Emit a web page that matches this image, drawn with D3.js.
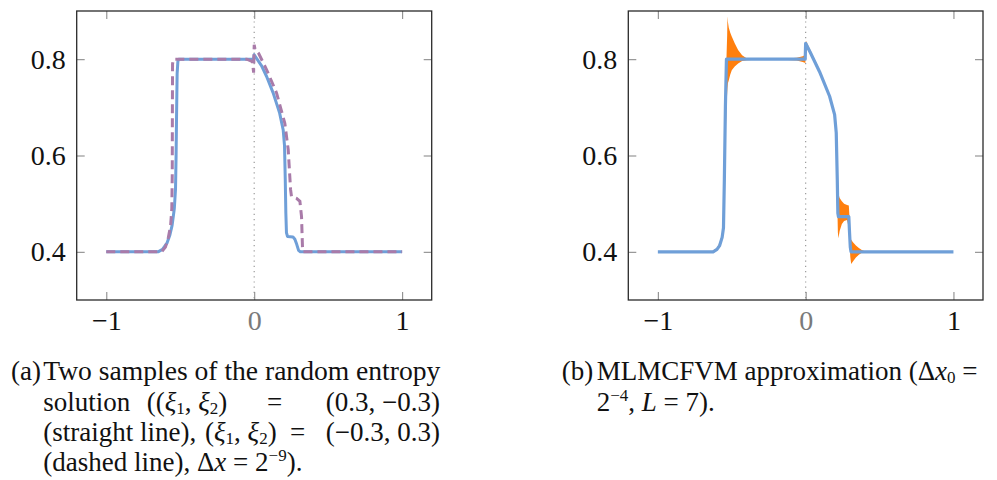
<!DOCTYPE html>
<html>
<head>
<meta charset="utf-8">
<script src="https://cdn.jsdelivr.net/npm/d3@7"></script>
<style>
  body { margin: 0; background: #fff; }
  text { font-family: "Liberation Serif", serif; }
</style>
</head>
<body>
<svg id="chart" width="997" height="480"></svg>
<script>
/*
 * Two panels: (a) two samples of the entropy solution, (b) MLMC mean with its spread.
 */

var xDomain = [-1.2, 1.2];
var yDomain = [0.3, 0.9];
var xTicks = [-1, 0, 1];
var yTicks = [0.4, 0.6, 0.8];

// (a) sample (xi1, xi2) = (0.3, -0.3), straight line
var solidX = [-1, -0.65, -0.62, -0.59, -0.57, -0.555, -0.54, -0.532, -0.528, -0.525, -0.521, -0.516, -0.51, -0.005,
  0.0, 0.05, 0.084, 0.128, 0.172, 0.196, 0.205, 0.210, 0.214, 0.218, 0.225, 0.262, 0.275, 0.288, 0.300, 0.312, 1];
var solidY = [0.4, 0.4, 0.405, 0.418, 0.435, 0.455, 0.49, 0.53, 0.6, 0.68, 0.77, 0.795, 0.8, 0.8,
  0.809, 0.786, 0.764, 0.73, 0.688, 0.653, 0.62, 0.55, 0.48, 0.44, 0.432, 0.431, 0.426, 0.415, 0.403, 0.4, 0.4];

// (a) sample (xi1, xi2) = (-0.3, 0.3), dashed line
var dashX = [-1, -0.626, -0.6, -0.58, -0.565, -0.557, -0.554, -0.553, -0.552, -0.546, -0.05, -0.012, -0.004,
  0.0, 0.006, 0.03, 0.084, 0.151, 0.207, 0.23, 0.246, 0.252, 0.286, 0.309, 0.32, 0.327, 0.332, 1];
var dashY = [0.4, 0.4, 0.41, 0.43, 0.455, 0.49, 0.56, 0.7, 0.79, 0.8, 0.8, 0.795, 0.772,
  0.83, 0.82, 0.812, 0.778, 0.73, 0.667, 0.612, 0.529, 0.515, 0.511, 0.505, 0.473, 0.404, 0.4, 0.4];

// (b) MLMCFVM mean
var meanX = [-1, -0.626, -0.60, -0.582, -0.565, -0.556, -0.55, -0.543, -0.536, -0.529, -0.003,
  0.0, 0.03, 0.094, 0.162, 0.196, 0.207, 0.214, 0.218, 0.222, 0.292, 0.297, 0.302, 0.307, 1];
var meanY = [0.4, 0.4, 0.405, 0.413, 0.43, 0.45, 0.55, 0.7, 0.8, 0.8, 0.8,
  0.833, 0.815, 0.774, 0.723, 0.685, 0.647, 0.55, 0.48, 0.473, 0.473, 0.44, 0.41, 0.4, 0.4];

// (b) spread around the mean (orange band)
var bandX = [-1, -0.64, -0.60, -0.58, -0.565, -0.555, -0.548, -0.542, -0.536, -0.531, -0.529, -0.526, -0.52,
  -0.51, -0.50, -0.48, -0.457, -0.43, -0.40, -0.30, -0.15, -0.06, -0.02, -0.002, 0.002, 0.03, 0.094, 0.162,
  0.196, 0.207, 0.211, 0.214, 0.218, 0.222, 0.23, 0.245, 0.26, 0.28, 0.292, 0.297, 0.302, 0.308, 0.32, 0.34,
  0.36, 0.38, 0.40, 0.45, 1];
var bandLo = [0.4, 0.4, 0.403, 0.41, 0.425, 0.44, 0.52, 0.62, 0.70, 0.73, 0.74, 0.75, 0.756,
  0.768, 0.777, 0.785, 0.791, 0.796, 0.798, 0.7995, 0.799, 0.797, 0.794, 0.792, 0.826, 0.81, 0.77, 0.719,
  0.68, 0.635, 0.56, 0.50, 0.44, 0.428, 0.443, 0.458, 0.464, 0.466, 0.45, 0.42, 0.39, 0.375, 0.38, 0.388,
  0.394, 0.398, 0.4, 0.4, 0.4];
var bandHi = [0.4, 0.4, 0.408, 0.42, 0.44, 0.47, 0.62, 0.76, 0.80, 0.85, 0.889, 0.877, 0.865,
  0.855, 0.847, 0.833, 0.819, 0.808, 0.802, 0.8005, 0.801, 0.803, 0.806, 0.809, 0.838, 0.82, 0.778, 0.727,
  0.69, 0.655, 0.62, 0.56, 0.53, 0.52, 0.512, 0.505, 0.50, 0.497, 0.496, 0.47, 0.43, 0.425, 0.42, 0.413,
  0.408, 0.404, 0.401, 0.4, 0.4];

var blue = "#6f9fd8";
var purple = "#a97ba9";
var orange = "#ff7f0e";

var svg = d3.select("#chart");

function zip(xs, ys) {
  return xs.map(function(v, i) { return [v, ys[i]]; });
}

function drawPanel(left, right, content) {
  var top = 11, bottom = 300;
  var x = d3.scaleLinear().domain(xDomain).range([left, right]);
  var y = d3.scaleLinear().domain(yDomain).range([bottom, top]);
  var g = svg.append("g");

  // dotted line at x = 0
  g.append("line")
    .attr("x1", x(0)).attr("x2", x(0))
    .attr("y1", top).attr("y2", bottom)
    .attr("stroke", "#9a9a9a")
    .attr("stroke-width", 1.2)
    .attr("stroke-dasharray", "1.2,4");

  content(g, x, y);

  // ticks on all four sides, pointing in
  var axB = g.append("g").attr("transform", "translate(0," + bottom + ")")
    .call(d3.axisBottom(x).tickValues(xTicks).tickSize(-8).tickPadding(10).tickFormat(d3.format("d")));
  var axT = g.append("g").attr("transform", "translate(0," + top + ")")
    .call(d3.axisTop(x).tickValues(xTicks).tickSize(-8).tickFormat(""));
  var axL = g.append("g").attr("transform", "translate(" + left + ",0)")
    .call(d3.axisLeft(y).tickValues(yTicks).tickSize(-8).tickPadding(11).tickFormat(d3.format(".1f")));
  var axR = g.append("g").attr("transform", "translate(" + right + ",0)")
    .call(d3.axisRight(y).tickValues(yTicks).tickSize(-8).tickFormat(""));

  [axB, axT, axL, axR].forEach(function(a) {
    a.attr("font-family", null);
    a.select(".domain").remove();
    a.selectAll(".tick line").attr("stroke", "#8c8c8c").attr("stroke-width", 1.1);
    a.selectAll(".tick text")
      .attr("font-size", 28)
      .attr("fill", "#111");
  });
  axB.selectAll(".tick text").attr("fill", function(d) { return d === 0 ? "#7a7a7a" : "#111"; });

  g.append("rect")
    .attr("x", left).attr("y", top)
    .attr("width", right - left).attr("height", bottom - top)
    .attr("fill", "none")
    .attr("stroke", "#2a2a2a")
    .attr("stroke-width", 1.3);
}

var line = function(x, y) {
  return d3.line().x(function(d) { return x(d[0]); }).y(function(d) { return y(d[1]); });
};

// panel (a)
drawPanel(76.7, 431.7, function(g, x, y) {
  g.append("path")
    .datum(zip(solidX, solidY))
    .attr("d", line(x, y))
    .attr("fill", "none")
    .attr("stroke", blue)
    .attr("stroke-width", 3)
    .attr("stroke-linejoin", "round");
  g.append("path")
    .datum(zip(dashX, dashY))
    .attr("d", line(x, y))
    .attr("fill", "none")
    .attr("stroke", purple)
    .attr("stroke-width", 3)
    .attr("stroke-dasharray", "9,5");
});

// panel (b)
drawPanel(628.3, 983, function(g, x, y) {
  var band = bandX.map(function(v, i) { return {x: v, lo: bandLo[i], hi: bandHi[i]}; });
  g.append("path")
    .datum(band)
    .attr("d", d3.area()
      .x(function(d) { return x(d.x); })
      .y0(function(d) { return y(d.lo); })
      .y1(function(d) { return y(d.hi); }))
    .attr("fill", orange);
  g.append("path")
    .datum(zip(meanX, meanY))
    .attr("d", line(x, y))
    .attr("fill", "none")
    .attr("stroke", blue)
    .attr("stroke-width", 3.2)
    .attr("stroke-linejoin", "round");
});

// captions
function richText(x, y, parts, anchor, width) {
  var t = svg.append("text")
    .attr("x", x).attr("y", y)
    .attr("text-anchor", anchor || "start")
    .attr("font-size", 27)
    .attr("fill", "#111");
  if (width) t.attr("textLength", width).attr("lengthAdjust", "spacingAndGlyphs");
  var shift = 0;
  parts.forEach(function(p) {
    if (typeof p === "string") p = {t: p};
    var target = p.sub ? 3 : (p.sup ? -10 : 0);
    var s = t.append("tspan").text(p.t);
    if (target !== shift) s.attr("dy", target - shift);
    shift = target;
    if (p.it) s.attr("font-style", "italic");
    if (p.sub || p.sup) s.attr("font-size", 17);
  });
  return t;
}

richText(11, 380, ["(a)"]);
richText(43.3, 380, ["Two samples of the random entropy"], "start", 397);
richText(43.3, 411, ["solution"]);
richText(146.7, 411, ["((", {t: "ξ", it: true}, {t: "1", sub: true}, ", ", {t: "ξ", it: true}, {t: "2", sub: true}, ")"]);
richText(267, 411, ["="]);
richText(440, 411, ["(0.3, −0.3)"], "end");
richText(43.3, 441, ["(straight line),"]);
richText(205, 441, ["(", {t: "ξ", it: true}, {t: "1", sub: true}, ", ", {t: "ξ", it: true}, {t: "2", sub: true}, ")"]);
richText(290, 441, ["="]);
richText(440, 441, ["(−0.3, 0.3)"], "end");
richText(43.3, 471, ["(dashed line), Δ", {t: "x", it: true}, " = 2", {t: "−9", sup: true}, ")."]);

richText(561.7, 380, ["(b)"]);
richText(596.7, 380, ["MLMCFVM approximation (Δ", {t: "x", it: true}, {t: "0", sub: true}, " ="]);
richText(596.7, 410.5, ["2", {t: "−4", sup: true}, ", ", {t: "L", it: true}, " = 7)."]);
</script>
</body>
</html>
